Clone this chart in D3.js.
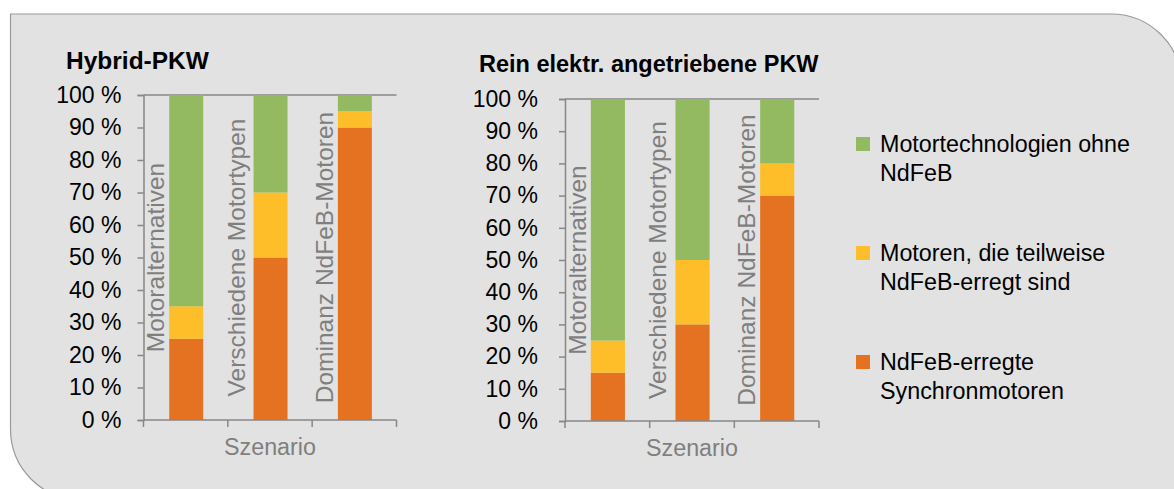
<!DOCTYPE html>
<html>
<head>
<meta charset="utf-8">
<script src="https://cdn.jsdelivr.net/npm/d3@7"></script>
<style>
  body { margin: 0; background: #fff; }
  text { font-family: "Liberation Sans", Arial, sans-serif; }
</style>
</head>
<body>
<script>
//
// DATA
//
var categories = ["Motoralternativen", "Verschiedene Motortypen", "Dominanz NdFeB-Motoren"];
var seriesKeys = ["synchron", "teilweise", "ohne"];
var seriesLabels = [
  ["NdFeB-erregte", "Synchronmotoren"],
  ["Motoren, die teilweise", "NdFeB-erregt sind"],
  ["Motortechnologien ohne", "NdFeB"]
];
var seriesColors = ["#e57221", "#fdbe29", "#93ba61"];

// Hybrid-PKW
var hybridSynchron = [25, 50, 90];
var hybridTeilweise = [10, 20, 5];
var hybridOhne = [65, 30, 5];

// Rein elektr. angetriebene PKW
var elektroSynchron = [15, 30, 70];
var elektroTeilweise = [10, 20, 10];
var elektroOhne = [75, 50, 20];

var yTicks = [0, 10, 20, 30, 40, 50, 60, 70, 80, 90, 100];
var xTitle = "Szenario";

//
// SETUP
//
var W = 1174, H = 489;
var axisColor = "#878787";
var greyText = "#7f7f7f";

var svg = d3.select("body").append("svg")
  .attr("width", W)
  .attr("height", H);

// Background panel, rounded top-right and bottom-left corners
var px0 = 10.5, py0 = 14, px1 = 1182, py1 = 500, rr = 71;
var p = d3.path();
p.moveTo(px0, py0);
p.lineTo(px1 - rr, py0);
p.arcTo(px1, py0, px1, py0 + rr, rr);
p.lineTo(px1, py1);
p.lineTo(px0 + rr, py1);
p.arcTo(px0, py1, px0, py1 - rr, rr);
p.closePath();
svg.append("path")
  .attr("d", p.toString())
  .attr("fill", "#e2e2e2")
  .attr("stroke", "#9a9a9a")
  .attr("stroke-width", 1.2);

function makeRows(a, b, c) {
  return categories.map(function (cat, i) {
    return { cat: cat, synchron: a[i], teilweise: b[i], ohne: c[i] };
  });
}

// Draw one stacked bar chart
function drawChart(opts) {
  var g = svg.append("g").attr("transform", "translate(" + opts.left + "," + opts.top + ")");
  var w = opts.width, h = opts.height;

  var x = d3.scaleBand().domain(categories).range([0, w]).padding(0);
  var y = d3.scaleLinear().domain([0, 100]).range([h, 0]);

  var stacked = d3.stack().keys(seriesKeys)(opts.rows);

  // top line at 100 %
  g.append("line")
    .attr("x1", 0).attr("x2", w)
    .attr("y1", y(100)).attr("y2", y(100))
    .attr("stroke", axisColor).attr("stroke-width", 1.5);

  g.selectAll("g.layer")
    .data(stacked)
    .enter().append("g")
    .attr("class", "layer")
    .attr("fill", function (d, i) { return seriesColors[i]; })
    .selectAll("rect")
    .data(function (d) { return d; })
    .enter().append("rect")
    .attr("x", function (d) { return x(d.data.cat) + x.bandwidth() * 0.305; })
    .attr("width", x.bandwidth() * 0.403)
    .attr("y", function (d) { return y(d[1]); })
    .attr("height", function (d) { return y(d[0]) - y(d[1]); });

  // y axis
  var ya = g.append("g")
    .call(d3.axisLeft(y).tickValues(yTicks).tickSize(6).tickPadding(opts.tickPad)
      .tickFormat(function (d) { return d + " %"; }));
  ya.select(".domain").attr("stroke", axisColor).attr("stroke-width", 1.5);
  ya.selectAll(".tick line").attr("stroke", axisColor).attr("stroke-width", 1.5);
  ya.selectAll(".tick text")
    .attr("fill", "#000")
    .style("font-size", "23px");

  // x axis: ticks at category boundaries
  var bounds = categories.map(function (c) { return x(c); }).concat([w]);
  g.append("line")
    .attr("x1", 0).attr("x2", w).attr("y1", h).attr("y2", h)
    .attr("stroke", axisColor).attr("stroke-width", 1.5);
  g.selectAll("line.xtick")
    .data(bounds)
    .enter().append("line")
    .attr("class", "xtick")
    .attr("x1", function (d) { return d; }).attr("x2", function (d) { return d; })
    .attr("y1", h).attr("y2", h + 7)
    .attr("stroke", axisColor).attr("stroke-width", 1.5);

  // rotated category labels, left of each bar
  g.selectAll("text.cat")
    .data(categories)
    .enter().append("text")
    .attr("class", "cat")
    .attr("transform", function (d) {
      var bx = x(d) + x.bandwidth() * 0.305;
      var off = /[gpqy]/.test(d) ? 9 : 5;
      return "translate(" + (bx - off) + "," + (h / 2) + ") rotate(-90)";
    })
    .attr("text-anchor", "middle")
    .attr("fill", greyText)
    .style("font-size", "24.5px")
    .text(function (d) { return d; });

  // x title
  g.append("text")
    .attr("x", w / 2)
    .attr("y", h + 35)
    .attr("text-anchor", "middle")
    .attr("fill", greyText)
    .style("font-size", "23.3px")
    .text(xTitle);

  // chart title
  g.append("text")
    .attr("x", opts.titleX)
    .attr("y", opts.titleY)
    .attr("fill", "#000")
    .style("font-size", opts.titleSize)
    .style("font-weight", "bold")
    .text(opts.title);
}

drawChart({
  rows: makeRows(hybridSynchron, hybridTeilweise, hybridOhne),
  title: "Hybrid-PKW",
  left: 143.5, top: 95, width: 253, height: 325,
  tickPad: 16, titleX: -77.5, titleY: -26, titleSize: "24.5px"
});

drawChart({
  rows: makeRows(elektroSynchron, elektroTeilweise, elektroOhne),
  title: "Rein elektr. angetriebene PKW",
  left: 565, top: 99, width: 254, height: 322,
  tickPad: 21, titleX: -86, titleY: -27, titleSize: "23.5px"
});

//
// LEGEND (top to bottom: green, yellow, orange)
//
var legendOrder = [2, 1, 0];
var legend = svg.append("g").attr("transform", "translate(856,137)");
var item = legend.selectAll("g.item")
  .data(legendOrder)
  .enter().append("g")
  .attr("class", "item")
  .attr("transform", function (d, i) { return "translate(0," + (i * 109) + ")"; });

item.append("rect")
  .attr("width", 14).attr("height", 14)
  .attr("fill", function (d) { return seriesColors[d]; });

item.append("text")
  .attr("x", 24)
  .attr("y", 15)
  .style("font-size", "23.3px")
  .attr("fill", "#000")
  .selectAll("tspan")
  .data(function (d) { return seriesLabels[d]; })
  .enter().append("tspan")
  .attr("x", 24)
  .attr("dy", function (d, i) { return i === 0 ? 0 : 28.5; })
  .text(function (d) { return d; });
</script>
</body>
</html>
